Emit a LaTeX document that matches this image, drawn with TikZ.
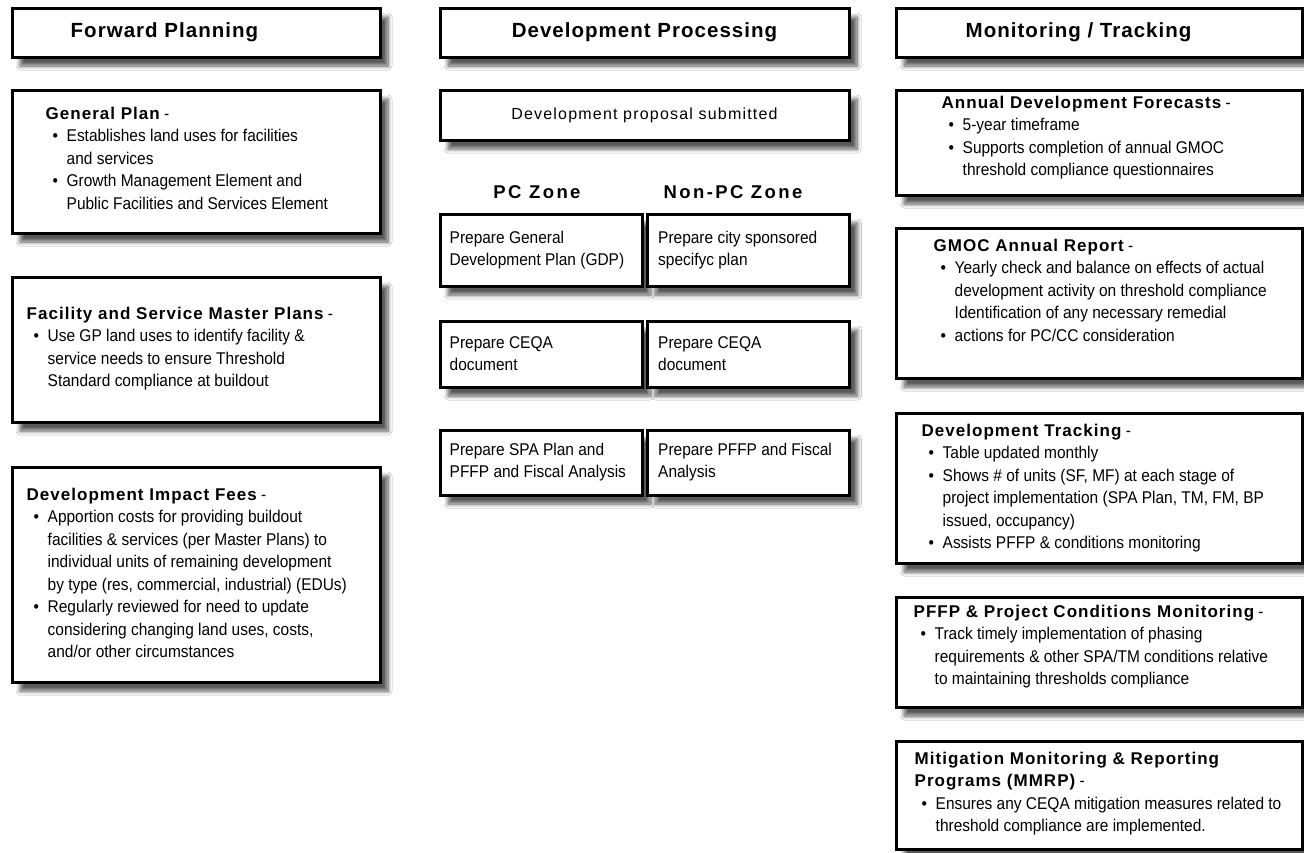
\documentclass[tikz,border=0pt]{standalone}
\usepackage{fontspec}
\setmainfont[FakeStretch=0.91]{Liberation Sans}
\newfontfamily\hdfont[LetterSpace=5]{Liberation Sans}
\newfontfamily\tfont[LetterSpace=6]{Liberation Sans}
\newfontfamily\znfont[LetterSpace=13]{Liberation Sans}
\newfontfamily\spfont[LetterSpace=7.5]{Liberation Sans}
\usetikzlibrary{positioning, shadows.blur}

\newcommand{\bul}{\hspace*{7pt}\makebox[14pt][l]{\textbullet}}
\newcommand{\cnt}{\hspace*{21pt}}
\newcommand{\ttl}[1]{{\tfont\fontsize{17}{22}\selectfont\bfseries #1} -}

\tikzset{
  panel/.style={draw, line width=3pt, fill=white, inner sep=0pt,
    blur shadow={shadow xshift=8pt, shadow yshift=-9pt, shadow opacity=65,
      shadow blur radius=4pt, shadow blur steps=10}},
  hdr/.style={panel, minimum height=49},
  cell/.style={panel, minimum width=202},
  body/.style={align=left, inner sep=0pt, font=\fontsize{17}{22.5}\selectfont},
  celltxt/.style={align=left, inner sep=0pt, font=\fontsize{17}{22}\selectfont, anchor=west},
  hdtext/.style={inner sep=0pt, font=\hdfont\fontsize{20.5}{24}\selectfont\bfseries},
  zone/.style={inner sep=0pt, font=\znfont\fontsize{18.5}{22}\selectfont\bfseries}
}

\begin{document}
\begin{tikzpicture}[x=1pt, y=-1pt]
  \fill[white] (0,0) rectangle (1304,852);
  \useasboundingbox (0,0) rectangle (1304,852);

  % Forward planning column
  \node[hdr, minimum width=368] (fp) at (196,32.5) {};
  \node[hdtext, anchor=west] (fptxt) at ([xshift=60pt]fp.west) {Forward Planning};

  \node[panel, minimum width=368, minimum height=143] (gp) at (196,161.5) {};
  \node[body, anchor=north west] (gptxt) at ([xshift=35pt,yshift=-18pt]gp.north west)
    {\ttl{General Plan}\\
     \bul Establishes land uses for facilities\\
     \cnt and services\\
     \bul Growth Management Element and\\
     \cnt Public Facilities and Services Element};

  \node[panel, minimum width=368, minimum height=145] (fsmp) at (196,349.5) {};
  \node[body, anchor=north west] (fsmptxt) at ([xshift=16pt,yshift=-31pt]fsmp.north west)
    {\ttl{Facility and Service Master Plans}\\
     \bul Use GP land uses to identify facility \&\\
     \cnt service needs to ensure Threshold\\
     \cnt Standard compliance at buildout};

  \node[panel, minimum width=368, minimum height=215] (dif) at (196,574.5) {};
  \node[body, anchor=north west] (diftxt) at ([xshift=16pt,yshift=-22pt]dif.north west)
    {\ttl{Development Impact Fees}\\
     \bul Apportion costs for providing buildout\\
     \cnt facilities \& services (per Master Plans) to\\
     \cnt individual units of remaining development\\
     \cnt by type (res, commercial, industrial) (EDUs)\\
     \bul Regularly reviewed for need to update\\
     \cnt considering changing land uses, costs,\\
     \cnt and/or other circumstances};

  % Development processing column
  \node[hdr, minimum width=409] (dp) at (644.5,32.5) {};
  \node[hdtext] (dptxt) at (dp.center) {Development Processing};

  \node[panel, minimum width=409, minimum height=50] (sub) at (644.5,115) {};
  \node[inner sep=0pt, font=\spfont\fontsize{16}{20}\selectfont] (subtxt) at (sub.center)
    {Development proposal submitted};

  \node[zone] (pcl) at (537,192) {PC Zone};
  \node[zone] (npcl) at (733,192) {Non-PC Zone};

  \node[cell, minimum height=72] (pc1) at (541,250) {};
  \node[cell, minimum height=72] (np1) at (748.5,250) {};
  \node[cell, minimum height=66] (pc2) at (541,354) {};
  \node[cell, minimum height=66] (np2) at (748.5,354) {};
  \node[cell, minimum height=65] (pc3) at (541,462.5) {};
  \node[cell, minimum height=65] (np3) at (748.5,462.5) {};

  \node[celltxt] (pc1txt) at ([xshift=11pt]pc1.west) {Prepare General\\Development Plan (GDP)};
  \node[celltxt] (np1txt) at ([xshift=12pt]np1.west) {Prepare city sponsored\\specifyc plan};
  \node[celltxt] (pc2txt) at ([xshift=11pt]pc2.west) {Prepare CEQA\\document};
  \node[celltxt] (np2txt) at ([xshift=12pt]np2.west) {Prepare CEQA\\document};
  \node[celltxt] (pc3txt) at ([xshift=11pt]pc3.west) {Prepare SPA Plan and\\PFFP and Fiscal Analysis};
  \node[celltxt] (np3txt) at ([xshift=12pt]np3.west) {Prepare PFFP and Fiscal\\Analysis};

  % Monitoring / tracking column
  \node[hdr, minimum width=406] (mt) at (1099,32.5) {};
  \node[hdtext, anchor=west] (mttxt) at ([xshift=71pt]mt.west) {Monitoring / Tracking};

  \node[panel, minimum width=406, minimum height=105] (adf) at (1099,142.5) {};
  \node[body, anchor=north west] (adftxt) at ([xshift=47pt,yshift=-7pt]adf.north west)
    {\ttl{Annual Development Forecasts}\\
     \bul 5-year timeframe\\
     \bul Supports completion of annual GMOC\\
     \cnt threshold compliance questionnaires};

  \node[panel, minimum width=406, minimum height=150] (gmoc) at (1099,303) {};
  \node[body, anchor=north west] (gmoctxt) at ([xshift=39pt,yshift=-12pt]gmoc.north west)
    {\ttl{GMOC Annual Report}\\
     \bul Yearly check and balance on effects of actual\\
     \cnt development activity on threshold compliance\\
     \cnt Identification of any necessary remedial\\
     \bul actions for PC/CC consideration};

  \node[panel, minimum width=406, minimum height=150] (trk) at (1099,488) {};
  \node[body, anchor=north west] (trktxt) at ([xshift=27pt,yshift=-12pt]trk.north west)
    {\ttl{Development Tracking}\\
     \bul Table updated monthly\\
     \bul Shows \# of units (SF, MF) at each stage of\\
     \cnt project implementation (SPA Plan, TM, FM, BP\\
     \cnt issued, occupancy)\\
     \bul Assists PFFP \& conditions monitoring};

  \node[panel, minimum width=406, minimum height=110] (pffp) at (1099,652) {};
  \node[body, anchor=north west] (pffptxt) at ([xshift=19pt,yshift=-9pt]pffp.north west)
    {\ttl{PFFP \& Project Conditions Monitoring}\\
     \bul Track timely implementation of phasing\\
     \cnt requirements \& other SPA/TM conditions relative\\
     \cnt to maintaining thresholds compliance};

  \node[panel, minimum width=406, minimum height=108] (mmrp) at (1099,795) {};
  \node[body, anchor=north west] (mmrptxt) at ([xshift=20pt,yshift=-12pt]mmrp.north west)
    {{\tfont\fontsize{17}{22}\selectfont\bfseries Mitigation Monitoring \& Reporting}\\
     \ttl{Programs (MMRP)}\\
     \bul Ensures any CEQA mitigation measures related to\\
     \cnt threshold compliance are implemented.};
\end{tikzpicture}
\end{document}
